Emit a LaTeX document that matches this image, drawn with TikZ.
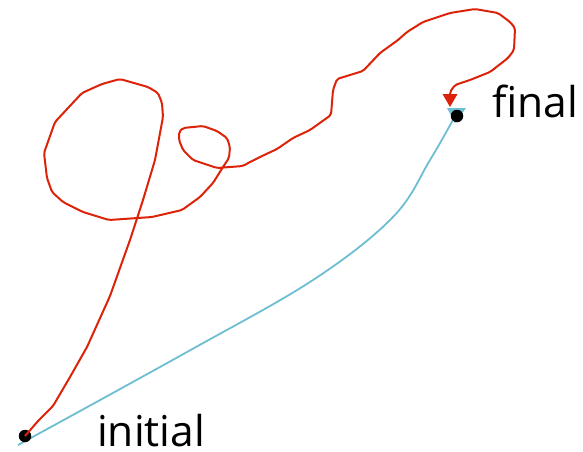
\documentclass[tikz,border=0pt]{standalone}
\usepackage{fontspec}
\setmainfont{Open Sans}
\usetikzlibrary{arrows.meta}
\definecolor{redpath}{RGB}{220,35,10}
\definecolor{bluepath}{RGB}{110,190,210}
\tikzset{
  dot/.style={circle,fill=black,inner sep=0pt,minimum size=12.5pt},
  lbl/.style={anchor=base west,font=\fontsize{42.5}{42.5}\selectfont,inner sep=0pt},
  redline/.style={draw=redpath,line width=2pt,rounded corners=2pt},
  blueline/.style={draw=bluepath,line width=1.8pt},
}
\begin{document}
\begin{tikzpicture}[x=1pt,y=-1pt]
\useasboundingbox (0,0) rectangle (583,451);
% blue curve
\coordinate (bstart) at (18,445);
\coordinate (bend) at (454,118);
\draw[blueline] plot[smooth,tension=0.6] coordinates {(18,445) (187,352) (313,280) (393,217) (430,160) (454,118)};
\fill[bluepath] (447,108) -- (466,108) -- (455,123) -- cycle;
% dots
\node[dot] (ini) at (25,436) {};
\node[dot] (fin) at (457,116) {};
% red path
\coordinate (rtip) at (450,107);
\coordinate (rbase) at (450,95);
\draw[redline] (ini.center) -- (38,421) -- (53,406) -- (70,377) -- (87,347) -- (110,296) -- (130,240) -- (143,200) -- (155,160) -- (163,117) -- (162,103) -- (158,93) -- (148,87) -- (120,79) -- (102,84) -- (82,93) -- (55,122) -- (44,153) -- (47,178) -- (52,192) -- (63,202) -- (83,212) -- (109,220) -- (152,217) -- (182,210) -- (200,197) -- (213,183) -- (223,167) -- (229,158) -- (230,147) -- (227,138) -- (217,131) -- (203,126) -- (183,128) -- (179,132) -- (179,140) -- (183,150) -- (193,160) -- (217,168) -- (243,166) -- (250,162) -- (260,157) -- (277,149) -- (293,138) -- (310,130) -- (331,115) -- (333,90) -- (337,79) -- (363,71) -- (380,53) -- (398,40) -- (407,32) -- (423,22) -- (450,13) -- (475,9) -- (498,13) -- (510,22) -- (515,28) -- (514,50) -- (508,58) -- (490,72) -- (470,80) -- (455,85) -- (450,92) -- (rbase);
\fill[redpath] (442.5,94) -- (457.5,94) -- (rtip) -- cycle;
% labels
\node[lbl] (tini) at (97,446) {initial};
\node[lbl] (tfin) at (492,117) {final};
\end{tikzpicture}
\end{document}
